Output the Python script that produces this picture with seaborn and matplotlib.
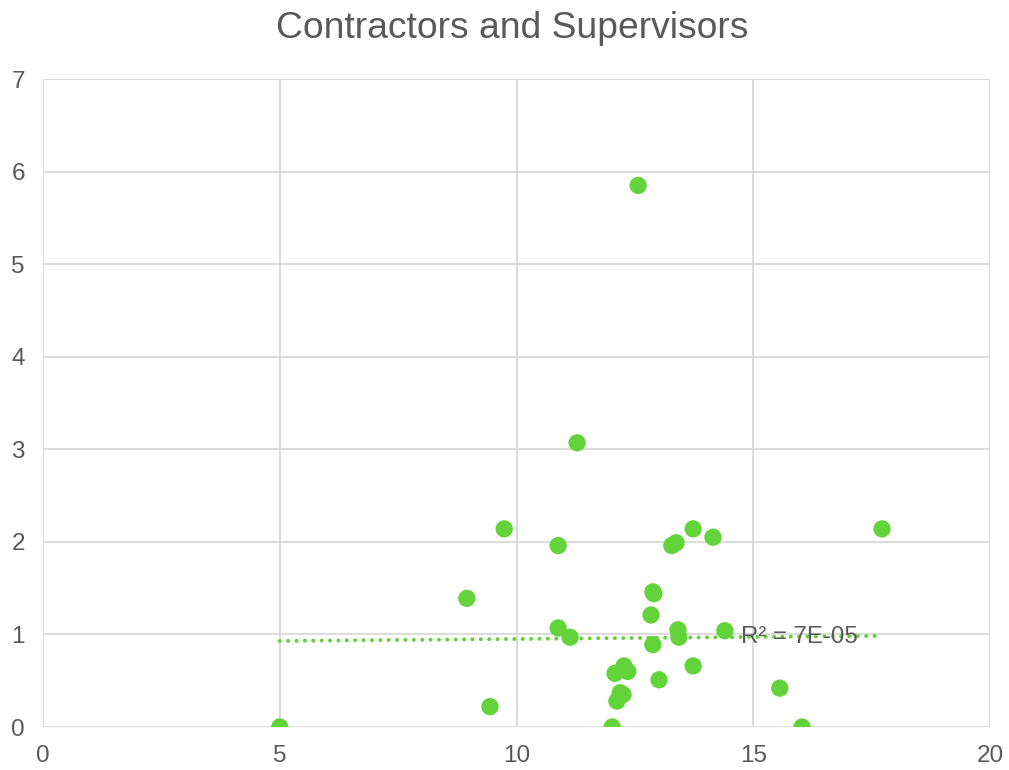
import numpy as np
import pandas as pd
import matplotlib
matplotlib.use("Agg")
import matplotlib.pyplot as plt
import seaborn as sns

x_vals = [5.0, 8.95, 9.44, 9.74, 10.88, 10.88, 11.13, 11.28, 12.02, 12.08, 12.12,
          12.19, 12.25, 12.27, 12.35, 12.57, 12.84, 12.88, 12.90, 12.88, 13.01,
          13.28, 13.37, 13.41, 13.43, 13.73, 13.73, 14.15, 14.40, 15.56, 16.03, 17.72]
y_vals = [0.0, 1.39, 0.22, 2.14, 1.96, 1.07, 0.97, 3.07, 0.0, 0.58, 0.28,
          0.37, 0.35, 0.66, 0.60, 5.85, 1.21, 1.46, 1.44, 0.89, 0.51,
          1.96, 1.99, 1.05, 0.97, 0.66, 2.14, 2.05, 1.04, 0.42, 0.0, 2.14]
# linear trendline as shown in the chart
trend_intercept = 0.908
trend_slope = 0.0043
title = "Contractors and Supervisors"
r2_label = "R² = 7E-05"

df = pd.DataFrame({"x": x_vals, "y": y_vals})

sns.set_style("white")
plt.rcParams['font.family'] = ['Liberation Sans', 'DejaVu Sans']

green = "#62D43A"
textc = "#595959"
gridc = "#D9D9D9"

fig = plt.figure(figsize=(10.09, 7.70), dpi=100)
ax = fig.add_axes([43/1009, 1-727/770, (990-43)/1009, (727-79)/770])

xs = np.array([df["x"].min(), df["x"].max()])
trend = pd.DataFrame({"x": xs, "y": trend_intercept + trend_slope * xs})
sns.lineplot(data=trend, x="x", y="y", ax=ax, color=green, linewidth=2.9,
             linestyle=(0, (0.01, 2.07)), dash_capstyle="round", zorder=2)

sns.scatterplot(data=df, x="x", y="y", ax=ax, color=green, s=155,
                edgecolor="none", zorder=3)

ax.set_xlim(0, 20)
ax.set_ylim(0, 7)
ax.set_xticks([0, 5, 10, 15, 20])
ax.set_yticks(range(8))
ax.grid(True, color=gridc, linewidth=1.3)
ax.set_axisbelow(True)
for s in ax.spines.values():
    s.set_visible(False)
ax.tick_params(axis="both", length=0, labelsize=17.5, labelcolor=textc, pad=13)
ax.set_xlabel("")
ax.set_ylabel("")

ax.text(14.74, 0.97, r2_label, fontsize=17.3, color=textc, va="center", ha="left", zorder=4)

fig.text(512/1009, 1-28/770, title, fontsize=26.8, color=textc, ha="center", va="center")

fig.savefig("out.png", dpi=100)
